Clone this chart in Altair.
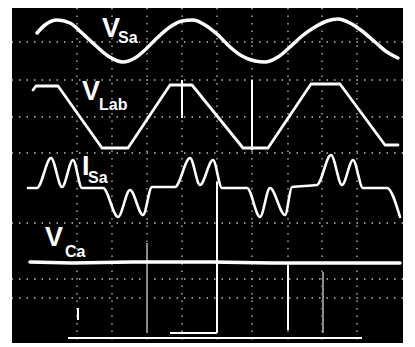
import altair as alt
import pandas as pd

# Oscilloscope traces: time t (screen units, 35 per division), level v (36 per division)
vsa_t = [25, 33, 45, 58, 70, 83, 96, 111, 123, 133, 145, 158, 170, 181, 193, 206, 218, 230, 243, 253,
         266, 278, 290, 303, 315, 326, 338, 350, 363, 375, 386]
vsa_v = [310, 318, 323, 320, 310, 298, 287, 281, 285, 293, 305, 316, 322, 323, 318, 308, 296, 287, 282, 281,
         286, 296, 307, 316, 322, 324, 320, 312, 301, 291, 285]

vlab_t = [21, 24, 46, 90, 116, 158, 180, 231, 256, 299, 328, 373, 386]
vlab_v = [253, 257, 257, 195, 195, 258, 258, 195, 195, 259, 259, 198, 198]

isa_t = [16, 25, 39, 50, 61, 70, 91, 106, 118, 131, 140, 163, 178, 188, 201, 210, 235, 248, 258,
         273, 280, 305, 319, 330, 341, 351, 375, 388]
isa_v = [155, 155, 185, 156, 183, 155, 155, 126, 153, 128, 156, 156, 185, 158, 183, 155, 155, 126, 155,
         128, 156, 158, 188, 158, 183, 155, 155, 126]

vca_t = [18, 60, 120, 200, 260, 330, 388]
vca_v = [81, 80, 81, 81, 80, 80, 80]

# graticule (dotted)
grid_t = [65, 100, 135, 170, 205, 240, 276, 310, 345]
grid_v = [301, 263, 226, 190, 120, 64, 45]

# solid markers / cursors
seg_t = [205, 158, 170, 240, 276, 135, 311, 56, 66]
seg_t2 = [205, 205, 170, 240, 276, 135, 311, 350, 66]
seg_v = [10, 10, 225, 193, 13, 10, 10, 5, 23]
seg_v2 = [161, 10, 263, 263, 78, 100, 71, 5, 35]
seg_col = ["#ffffff", "#ffffff", "#ffffff", "#ffffff", "#ffffff", "#8a8a8a", "#8a8a8a", "#ffffff", "#ffffff"]

# labels
lab_main = ["V", "V", "I", "V"]
lab_main_t = [90, 70, 70, 33]
lab_main_v = [306, 243, 168, 97]
lab_sub = ["Sa", "Lab", "Sa", "Ca"]
lab_sub_t = [106, 87, 76, 53]
lab_sub_v = [300, 233, 160, 86]

xs = alt.Scale(domain=[0, 391], nice=False, zero=False)
ys = alt.Scale(domain=[0, 335], nice=False, zero=False)


def trace(t, v, width, interp="linear"):
    df = pd.DataFrame({"t": t, "v": v, "i": list(range(len(t)))})
    return alt.Chart(df).mark_line(color="white", strokeWidth=width, strokeJoin="round",
                                   strokeCap="round", interpolate=interp, clip=True).encode(
        x=alt.X("t:Q", scale=xs, axis=None),
        y=alt.Y("v:Q", scale=ys, axis=None),
        order="i:O",
    )


gridx = alt.Chart(pd.DataFrame({"t": grid_t})).mark_rule(
    color="#bdbdbd", strokeWidth=1.3, strokeDash=[1.5, 6], clip=True
).encode(x=alt.X("t:Q", scale=xs, axis=None))
gridy = alt.Chart(pd.DataFrame({"v": grid_v})).mark_rule(
    color="#bdbdbd", strokeWidth=1.3, strokeDash=[1.5, 6], clip=True
).encode(y=alt.Y("v:Q", scale=ys, axis=None))

segs = alt.Chart(pd.DataFrame({"t": seg_t, "t2": seg_t2, "v": seg_v, "v2": seg_v2, "c": seg_col})).mark_rule(
    strokeWidth=2, clip=True
).encode(
    x=alt.X("t:Q", scale=xs, axis=None), x2="t2:Q",
    y=alt.Y("v:Q", scale=ys, axis=None), y2="v2:Q",
    color=alt.Color("c:N", scale=None),
)

main_txt = alt.Chart(pd.DataFrame({"t": lab_main_t, "v": lab_main_v, "s": lab_main})).mark_text(
    align="left", baseline="alphabetic", font="Liberation Sans", fontWeight="bold", fontSize=27, color="white"
).encode(x=alt.X("t:Q", scale=xs, axis=None), y=alt.Y("v:Q", scale=ys, axis=None), text="s:N")

sub_txt = alt.Chart(pd.DataFrame({"t": lab_sub_t, "v": lab_sub_v, "s": lab_sub})).mark_text(
    align="left", baseline="alphabetic", font="Liberation Sans", fontWeight="bold", fontSize=16, color="white"
).encode(x=alt.X("t:Q", scale=xs, axis=None), y=alt.Y("v:Q", scale=ys, axis=None), text="s:N")

chart = alt.layer(
    gridx, gridy, segs,
    trace(vsa_t, vsa_v, 3.5, "monotone"),
    trace(vlab_t, vlab_v, 2.8),
    trace(isa_t, isa_v, 2.6, "monotone"),
    trace(vca_t, vca_v, 3.5),
    main_txt, sub_txt,
).properties(
    width=391, height=335,
    autosize=alt.AutoSizeParams(type="none"),
    padding={"left": 4, "right": 4, "top": 0, "bottom": 0},
    background="white",
).configure_view(fill="black", stroke=None)

chart.save("out.html", embed_options={"renderer": "svg", "actions": False})
